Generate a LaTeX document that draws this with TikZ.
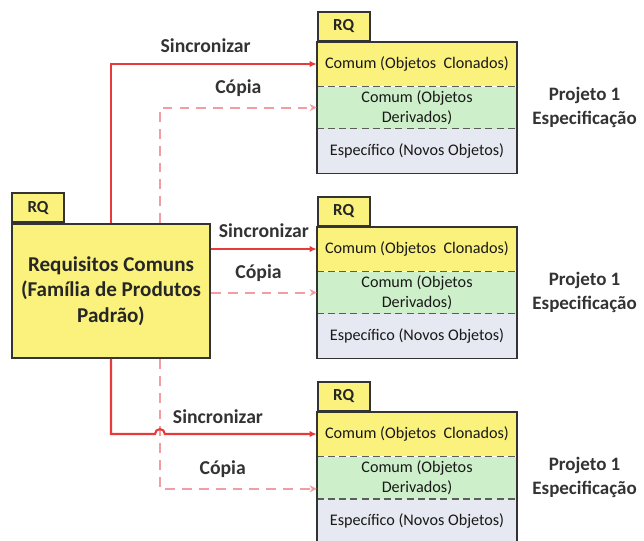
\documentclass[tikz,border=0pt]{standalone}
\usepackage{fontspec}
\setmainfont{Carlito}
\usetikzlibrary{positioning,arrows.meta,calc}

\definecolor{rqyellow}{HTML}{FAF27C}
\definecolor{rqgreen}{HTML}{CDEFC9}
\definecolor{rqlav}{HTML}{E6E8F2}
\definecolor{syncred}{HTML}{E63B3A}
\definecolor{copypink}{HTML}{F29CA4}
\definecolor{pkgline}{HTML}{333333}

\tikzset{
  reqbox/.style={draw=pkgline, line width=1.3pt, fill=rqyellow, minimum width=4.95cm, minimum height=3.35cm, align=center, text=black!85, font=\bfseries\fontsize{15}{18}\selectfont},
  rqtab/.style={draw=pkgline, line width=1.3pt, fill=rqyellow, minimum width=1.3cm, minimum height=0.72cm, inner sep=0pt, anchor=south west, text=black!85, font=\bfseries\fontsize{12}{14}\selectfont},
  clon/.style={fill=rqyellow, minimum width=5cm, minimum height=1.1cm, inner sep=0pt, align=center, text=black!90, font=\fontsize{11.5}{14}\selectfont},
  deriv/.style={clon, fill=rqgreen, minimum height=1.05cm},
  espec/.style={clon, fill=rqlav},
  pkgout/.style={draw=pkgline, line width=1.3pt},
  sepline/.style={draw=pkgline!80, line width=0.9pt, dash pattern=on 5pt off 3pt},
  syncarrow/.style={draw=syncred, line width=1.5pt, -{Latex[length=5pt,width=4.5pt]}},
  copyarrow/.style={draw=copypink, line width=1.5pt, dash pattern=on 7pt off 5pt, -{Stealth[length=5pt,width=5pt]}},
  lbl/.style={above=4pt, text=black!80, font=\bfseries\fontsize{14}{16}\selectfont},
  proj/.style={align=center, inner sep=2pt, text=black!80, font=\bfseries\fontsize{13.5}{17}\selectfont},
}

\begin{document}
\begin{tikzpicture}[x=0.025cm, y=-0.025cm]
    \useasboundingbox (0,0) rectangle (644,540);

    % Common requirements package
    \node[reqbox] (req) at (111,291) {Requisitos Comuns\\(Família de Produtos\\Padrão)};
    \node[rqtab] (t0) at (req.north west) {RQ};
    \coordinate (cpyt) at ($(req.north)+(49,0)$);
    \coordinate (cpyb) at ($(req.south)+(49,0)$);

    % Project package 1
    \node[clon] (p1a) at (417,64) {Comum (Objetos~ Clonados)};
    \node[deriv, below=0pt of p1a] (p1b) {Comum (Objetos\\Derivados)};
    \node[espec, below=0pt of p1b] (p1c) {Específico (Novos Objetos)};
    \draw[sepline] (p1a.south west) -- (p1a.south east);
    \draw[sepline] (p1b.south west) -- (p1b.south east);
    \draw[pkgout] (p1a.north west) rectangle (p1c.south east);
    \node[rqtab] (t1) at (p1a.north west) {RQ};
    \node[proj, right=0.3cm of p1b.east] (s1) {Projeto 1\\Especificação};

    % Project package 2
    \node[clon] (p2a) at (417,249) {Comum (Objetos~ Clonados)};
    \node[deriv, below=0pt of p2a] (p2b) {Comum (Objetos\\Derivados)};
    \node[espec, below=0pt of p2b] (p2c) {Específico (Novos Objetos)};
    \draw[sepline] (p2a.south west) -- (p2a.south east);
    \draw[sepline] (p2b.south west) -- (p2b.south east);
    \draw[pkgout] (p2a.north west) rectangle (p2c.south east);
    \node[rqtab] (t2) at (p2a.north west) {RQ};
    \node[proj, right=0.3cm of p2b.east] (s2) {Projeto 1\\Especificação};

    % Project package 3
    \node[clon] (p3a) at (417,434) {Comum (Objetos~ Clonados)};
    \node[deriv, below=0pt of p3a] (p3b) {Comum (Objetos\\Derivados)};
    \node[espec, below=0pt of p3b] (p3c) {Específico (Novos Objetos)};
    \draw[sepline] (p3a.south west) -- (p3a.south east);
    \draw[sepline] (p3b.south west) -- (p3b.south east);
    \draw[pkgout] (p3a.north west) rectangle (p3c.south east);
    \node[rqtab] (t3) at (p3a.north west) {RQ};
    \node[proj, right=0.3cm of p3b.east] (s3) {Projeto 1\\Especificação};

    % Sincronizar / Copia links
    \draw[syncarrow] (req.north) |- (p1a.west) node[lbl, pos=0.73] {Sincronizar};
    \draw[copyarrow] (cpyt) |- (p1b.west) node[lbl, pos=0.75] {Cópia};
    \draw[syncarrow] (p2a.west -| req.east) -- (p2a.west) node[lbl, midway] {Sincronizar};
    \draw[copyarrow] (p2b.west -| req.east) -- (p2b.west) node[lbl, pos=0.45] {Cópia};
    \draw[copyarrow] (cpyb) |- ([yshift=-8pt]p3b.west) node[lbl, pos=0.7] {Cópia};
    \draw[syncarrow] (req.south) |- ($(p3a.west -| cpyb)+(-5,0)$)
        arc[start angle=180, end angle=0, radius=3.5pt] -- (p3a.west);
    \node[lbl] at ($(p3a.west -| req.south)!0.52!(p3a.west)$) {Sincronizar};
\end{tikzpicture}
\end{document}
